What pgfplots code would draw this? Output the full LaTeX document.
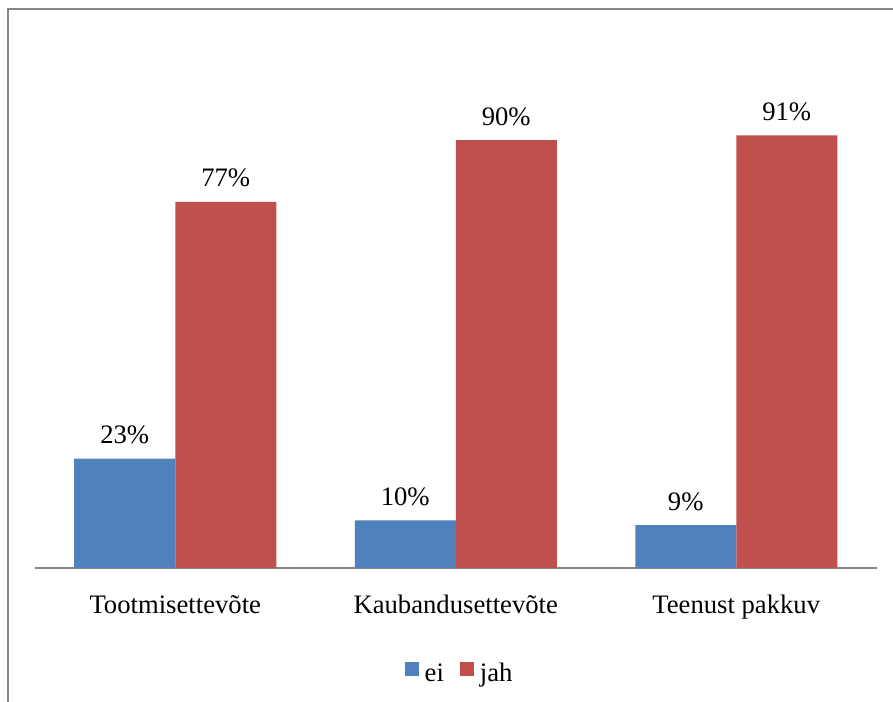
\documentclass[border=0pt]{standalone}
\usepackage{pgfplots}
\pgfplotsset{compat=1.18}
\usepackage{fontspec}
\setmainfont{Liberation Serif}
\definecolor{eiblue}{HTML}{4F81BD}
\definecolor{jahred}{HTML}{C0504D}
\definecolor{linegray}{HTML}{868686}
\newcommand{\chartfont}{\fontsize{20}{24}\selectfont}
\begin{document}
\begin{tikzpicture}[x=1pt,y=1pt]
\useasboundingbox (0,0) rectangle (669.75,526.5);
% outer frame (left and top edges)
\draw[linegray, line width=1.5pt] (6,-10) -- (6,519.4) -- (690,519.4);
\begin{axis}[
  at={(26.25pt,100.5pt)}, anchor=south west,
  x=210.375pt, y=3.565pt,
  xmin=-0.5, xmax=2.5, ymin=0, ymax=100,
  axis x line*=bottom,
  axis y line=none,
  x axis line style={linegray, line width=1.4pt},
  xtick={0,1,2},
  xticklabels={Tootmisettevõte,Kaubandusettevõte,Teenust pakkuv},
  ytick=\empty,
  major tick length=0pt,
  /pgf/number format/assume math mode=true,
  xticklabel style={font=\chartfont, anchor=base, yshift=-34.5pt},
  ybar=0pt, bar width=75.75pt,
  nodes near coords={\pgfmathprintnumber{\pgfplotspointmeta}\%},
  every node near coord/.append style={font=\chartfont, anchor=base, yshift=11.25pt, text=black},
  legend columns=2,
  legend style={at={(0.505,-0.222)}, anchor=center, draw=none, fill=none,
    font=\chartfont, inner sep=0pt,
    /tikz/every even column/.append style={column sep=10pt}},
  legend image code/.code={\fill[#1] (0pt,-1.5pt) rectangle (10.5pt,9pt);\path (13pt,0pt);},
  clip=false,
]
\addplot[fill=eiblue, draw=none] coordinates {(0,23) (1,10) (2,9)};
\addplot[fill=jahred, draw=none] coordinates {(0,77) (1,90) (2,91)};
\legend{ei,jah}
\end{axis}
\end{tikzpicture}
\end{document}
